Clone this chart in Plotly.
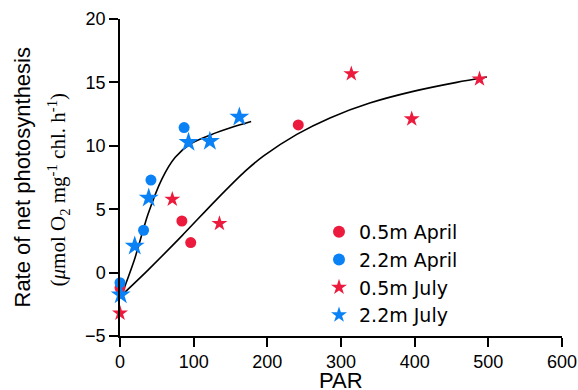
import plotly.graph_objects as go

# ---- data ----
red_circ_x = [0, 84, 96, 242]
red_circ_y = [-1.2, 4.07, 2.37, 11.65]

blue_circ_x = [0, 32, 42, 87]
blue_circ_y = [-0.8, 3.34, 7.3, 11.44]

red_star_x = [0, 71, 135, 314, 396, 488]
red_star_y = [-3.2, 5.78, 3.87, 15.68, 12.12, 15.27]

blue_star_x = [1, 20, 39, 93, 122, 162]
blue_star_y = [-1.74, 2.1, 5.88, 10.28, 10.36, 12.28]

# fitted curves
fit_deep_x = [2, 20, 38, 57, 75, 97, 129, 152, 178]
fit_deep_y = [-1.8, 1.1, 4.6, 7.4, 9.1, 10.2, 11.0, 11.47, 11.92]

fit_shallow_x = [2, 38, 84, 130, 170, 195, 240, 285, 339, 398, 457, 498]
fit_shallow_y = [-1.8, 0.2, 2.9, 5.7, 8.0, 9.2, 10.9, 12.2, 13.37, 14.29, 15.0, 15.42]

x_ticks = [0, 100, 200, 300, 400, 500, 600]
y_ticks = [-5, 0, 5, 10, 15, 20]

RED = "#EC1B3E"
BLUE = "#0A82F5"
SANS = "Liberation Sans, Arial, sans-serif"
SERIF = "Liberation Serif, Times New Roman, serif"

fig = go.Figure()

for fx, fy in [(fit_deep_x, fit_deep_y), (fit_shallow_x, fit_shallow_y)]:
    fig.add_trace(go.Scatter(x=fx, y=fy, mode="lines",
                             line=dict(color="black", width=1.6, shape="spline", smoothing=0.8),
                             showlegend=False, hoverinfo="skip"))

fig.add_trace(go.Scatter(x=red_circ_x, y=red_circ_y, mode="markers", name="0.5m April",
                         legendgroup="a",
                         marker=dict(symbol="circle", size=11, color=RED), cliponaxis=False))
fig.add_trace(go.Scatter(x=blue_circ_x, y=blue_circ_y, mode="markers", name="2.2m April",
                         legendgroup="b",
                         marker=dict(symbol="circle", size=11, color=BLUE), cliponaxis=False))
fig.add_trace(go.Scatter(x=red_star_x, y=red_star_y, mode="markers", name="0.5m July",
                         legendgroup="c",
                         marker=dict(symbol="star", size=12, color=RED), cliponaxis=False))
fig.add_trace(go.Scatter(x=blue_star_x, y=blue_star_y, mode="markers", name="2.2m July",
                         legendgroup="d",
                         marker=dict(symbol="star", size=15, color=BLUE), cliponaxis=False))

axis_common = dict(showline=True, linecolor="black", linewidth=1.5, ticks="outside",
                   ticklen=9, tickwidth=1.5, tickcolor="black", showgrid=False,
                   zeroline=False, automargin=False,
                   tickfont=dict(family=SANS, size=18, color="black"))

fig.update_xaxes(range=[0, 600], tickvals=x_ticks, **axis_common)
fig.update_yaxes(range=[-5, 20], tickvals=y_ticks, **axis_common)

fig.update_layout(
    width=578, height=390, autosize=False,
    margin=dict(l=120, r=16, t=19, b=54),
    paper_bgcolor="white", plot_bgcolor="white",
    font=dict(family=SANS, color="black"),
    legend=dict(x=(319 - 120) / 442, xanchor="left", y=(336 - 213) / 317, yanchor="top",
                font=dict(family="DejaVu Sans, sans-serif", size=19, color="black"),
                itemsizing="constant", bgcolor="rgba(0,0,0,0)", tracegroupgap=0),
    annotations=[
        dict(text="Rate of net photosynthesis", xref="paper", yref="paper", x=0, y=0.5,
             xanchor="center", yanchor="middle", xshift=-98, textangle=-90,
             showarrow=False, font=dict(family=SANS, size=22, color="black")),
        dict(text="(<i>μ</i>mol O<sub>2</sub> mg<sup>-1</sup> chl. h<sup>-1</sup>)",
             xref="paper", yref="paper", x=0, y=0.5, xanchor="center", yanchor="middle",
             xshift=-62, yshift=-13, textangle=-90, showarrow=False,
             font=dict(family=SERIF, size=21, color="black")),
        dict(text="PAR", xref="paper", yref="paper", x=0.5, y=0, xanchor="center",
             yanchor="middle", yshift=-44, showarrow=False,
             font=dict(family=SANS, size=22, color="black")),
    ],
)

fig.write_html("out.html",
               config={"displayModeBar": False, "responsive": False},
               post_script="document.body.style.margin='0px';document.body.style.overflow='hidden';")
